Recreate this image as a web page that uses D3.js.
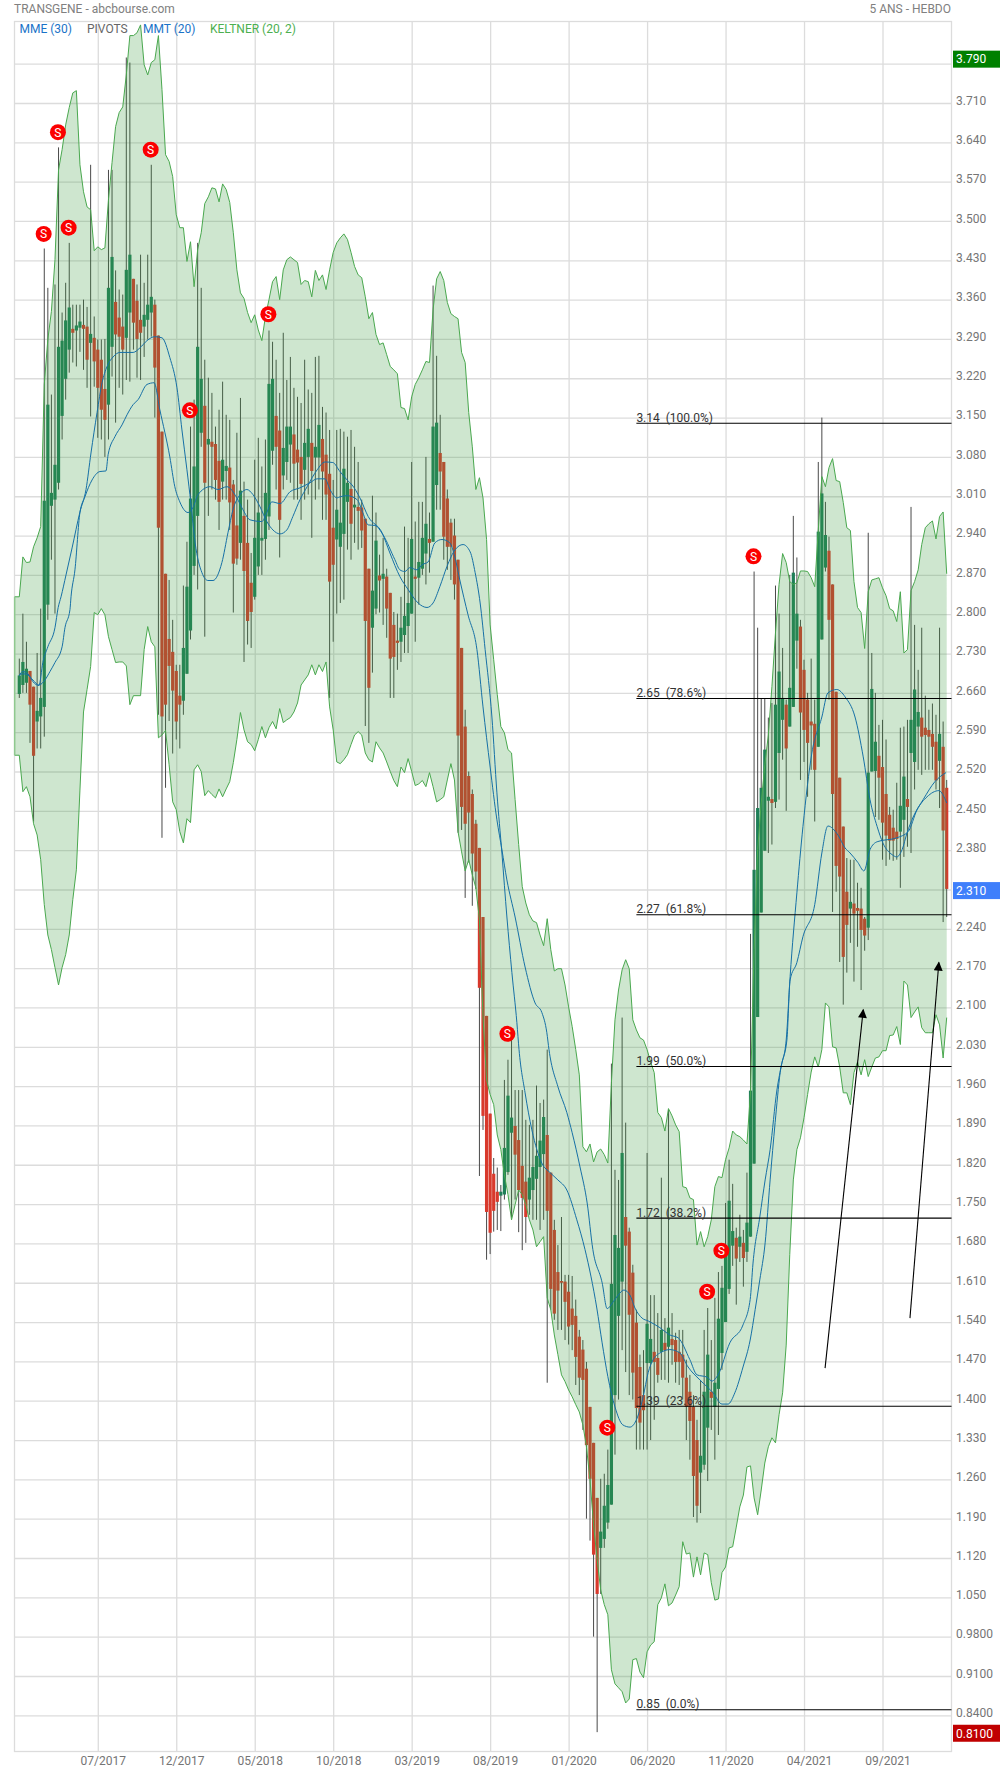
<!DOCTYPE html>
<html>
<head>
<meta charset="utf-8">
<script src="https://cdn.jsdelivr.net/npm/d3@7"></script>
<style>
  body { margin: 0; background: #fff; }
  text { font-family: Roboto, sans-serif; }
</style>
</head>
<body>
<svg id="Chart"></svg>
<script>
// weekly candles, [open, high, low, close]
const candles2017 = [
  [2.658,2.721,2.651,2.691],[2.674,2.801,2.660,2.715],[2.678,2.751,2.660,2.703],[2.699,2.699,2.571,2.639],[2.671,2.671,2.431,2.548],
  [2.609,2.731,2.561,2.628],[2.618,2.810,2.561,2.651],[2.635,3.451,2.582,3.002],[2.817,3.381,2.790,3.173],[2.993,3.191,2.897,3.016],
  [3.004,3.387,2.801,3.066],[3.034,3.631,3.022,3.276],[3.153,3.337,3.111,3.287],[3.219,3.390,3.182,3.323],[3.271,3.461,3.230,3.346],
  [3.308,3.351,3.248,3.301],[3.305,3.351,3.241,3.314],[3.310,3.351,3.267,3.321],[3.315,3.360,3.235,3.308],[3.312,3.347,3.203,3.253],
  [3.283,3.600,3.152,3.299],[3.292,3.330,3.205,3.250],[3.271,3.289,3.114,3.203],[3.253,3.289,3.111,3.164],[3.201,3.290,3.080,3.146],
  [3.173,3.591,3.111,3.381],[3.276,3.591,3.223,3.436],[3.356,3.412,3.141,3.298],[3.328,3.378,3.203,3.294],[3.312,3.369,3.191,3.271],
  [3.292,3.791,3.217,3.413],[3.337,3.782,3.214,3.440],[3.397,3.397,3.271,3.319],[3.358,3.387,3.221,3.290],[3.324,3.440,3.217,3.301],
  [3.312,3.390,3.258,3.333],[3.324,3.440,3.289,3.351],[3.337,3.600,3.294,3.365],[3.351,3.360,3.150,3.239],[3.296,3.296,2.621,2.954],
  [3.125,3.125,2.402,2.618],[2.872,2.872,2.491,2.639],[2.756,2.861,2.610,2.708],[2.733,2.790,2.552,2.664],[2.699,2.710,2.577,2.609]
];
const candles2018 = [
  [2.655,2.710,2.561,2.639],[2.646,2.851,2.621,2.740],[2.694,2.929,2.694,2.849],[2.771,3.134,2.755,3.006],[2.886,3.182,2.870,3.063],
  [2.975,3.461,2.844,3.276],[3.123,3.381,3.098,3.219],[3.171,3.253,2.760,3.034],[3.102,3.221,2.975,3.112],[3.107,3.194,3.022,3.098],
  [3.103,3.134,3.004,3.039],[3.073,3.164,2.950,3.000],[3.036,3.214,3.004,3.075],[3.055,3.155,3.004,3.064],[3.061,3.146,2.950,2.999],
  [3.031,3.039,2.803,2.890],[2.958,3.123,2.888,2.899],[2.927,3.185,2.897,3.020],[2.975,3.036,2.715,2.877],[2.927,3.004,2.746,2.788],
  [2.856,2.909,2.740,2.804],[2.831,3.075,2.826,2.936],[2.885,3.114,2.870,2.981],[2.931,3.063,2.870,2.936],[2.934,3.111,2.897,3.016],
  [2.974,3.305,2.950,3.210],[3.091,3.285,3.066,3.219],[3.153,3.253,3.022,3.098],[3.127,3.194,2.901,2.968],[3.047,3.301,3.022,3.096],
  [3.071,3.217,3.039,3.134],[3.102,3.258,3.034,3.134],[3.120,3.203,3.004,3.068],[3.093,3.187,3.004,3.070],[3.080,3.176,2.968,3.032],
  [3.057,3.253,3.004,3.105],[3.080,3.200,3.013,3.130],[3.105,3.194,2.936,3.055],[3.079,3.258,3.004,3.098],[3.079,3.260,3.022,3.137],
  [3.112,3.169,2.968,3.054],[3.084,3.159,2.968,3.013],[3.050,3.128,2.651,2.858],[2.954,3.039,2.751,2.888],[2.933,3.128,2.801,2.986],
  [2.920,3.130,2.820,2.963],[2.943,3.125,2.826,3.059],[3.000,3.116,2.915,3.034],[3.023,3.128,2.897,2.961],[2.990,3.098,2.927,2.995],
  [2.991,3.071,2.915,2.984],[2.990,3.004,2.918,2.949],[2.970,2.970,2.601,2.788]
];
const candles2019 = [
  [2.881,2.881,2.571,2.669],[2.776,3.011,2.696,2.842],[2.810,2.981,2.800,2.931],[2.869,2.906,2.803,2.860],[2.863,2.936,2.781,2.872],
  [2.867,2.881,2.758,2.810],[2.838,2.838,2.651,2.721],[2.781,2.804,2.651,2.724],[2.753,2.801,2.701,2.749],[2.751,2.831,2.715,2.776],
  [2.763,2.956,2.731,2.797],[2.779,2.936,2.731,2.820],[2.801,3.071,2.801,2.934],[2.867,2.965,2.751,2.863],[2.865,3.000,2.817,2.893],
  [2.881,3.000,2.870,2.936],[2.908,3.080,2.853,2.961],[2.934,2.981,2.874,2.927],[2.929,3.385,2.929,3.134],[3.030,3.260,2.986,3.141],
  [3.087,3.155,2.986,3.054],[3.071,3.071,2.897,2.938],[3.006,3.022,2.879,2.920],[2.963,2.970,2.861,2.920],[2.940,2.970,2.826,2.853],
  [2.897,2.897,2.411,2.584],[2.740,2.740,2.416,2.457],[2.600,2.630,2.295,2.427],[2.512,2.520,2.358,2.447],[2.480,2.488,2.281,2.374],
  [2.427,2.434,2.311,2.342],[2.384,2.384,1.800,2.135],[2.261,2.261,1.882,1.907],[2.085,2.085,1.651,1.736],[1.911,1.911,1.661,1.699],
  [1.804,1.832,1.701,1.738],[1.772,1.815,1.704,1.754],[1.765,1.784,1.702,1.772],[1.767,1.971,1.758,1.850],[1.807,2.007,1.802,1.943],
  [1.877,2.042,1.726,1.904],[1.889,1.953,1.758,1.838],[1.864,1.953,1.700,1.775],[1.818,1.953,1.668,1.761],[1.790,1.900,1.681,1.727],
  [1.758,1.891,1.731,1.797],[1.775,1.900,1.722,1.816],[1.795,1.961,1.722,1.836],[1.816,1.930,1.704,1.863],[1.839,1.936,1.722,1.905],
  [1.873,2.025,1.432,1.738],[1.806,1.806,1.562,1.599],[1.704,1.722,1.544,1.555]
];
const candles2020 = [
  [1.629,1.677,1.526,1.596],[1.613,1.727,1.526,1.610],[1.612,1.624,1.508,1.576],[1.594,1.624,1.500,1.532],[1.564,1.622,1.490,1.535],
  [1.551,1.580,1.428,1.478],[1.514,1.526,1.410,1.441],[1.491,1.508,1.348,1.437],[1.457,1.469,1.190,1.321],[1.389,1.389,1.151,1.261],
  [1.325,1.325,0.980,1.126],[1.227,1.227,0.810,1.056],[1.138,1.261,1.056,1.167],[1.154,1.270,1.138,1.213],[1.183,1.313,1.172,1.250],
  [1.215,2.000,1.215,1.608],[1.410,1.811,1.304,1.695],[1.551,1.793,1.402,1.672],[1.612,2.082,1.490,1.841],[1.727,1.895,1.451,1.676],
  [1.701,1.708,1.410,1.553],[1.628,1.642,1.402,1.450],[1.539,1.562,1.313,1.387],[1.460,1.482,1.313,1.361],[1.410,1.490,1.313,1.383],
  [1.467,1.841,1.313,1.537],[1.467,1.588,1.330,1.510],[1.487,1.588,1.366,1.469],[1.476,1.556,1.432,1.446],[1.487,1.797,1.437,1.526],
  [1.503,1.547,1.437,1.490],[1.496,1.918,1.432,1.530],[1.510,1.556,1.464,1.499],[1.508,1.521,1.432,1.469],[1.487,1.526,1.428,1.469],
  [1.482,1.526,1.402,1.441],[1.441,1.473,1.330,1.389],[1.416,1.446,1.295,1.364],[1.389,1.410,1.193,1.266],[1.330,1.366,1.183,1.213],
  [1.272,1.437,1.200,1.302],[1.286,1.526,1.277,1.416],[1.352,1.565,1.257,1.482],[1.416,1.508,1.348,1.405],[1.389,1.583,1.295,1.432],
  [1.421,1.629,1.339,1.546],[1.485,1.640,1.455,1.601],[1.540,1.752,1.540,1.660],[1.599,1.829,1.590,1.756],[1.676,1.786,1.640,1.702],
  [1.690,1.708,1.571,1.653],[1.674,1.731,1.647,1.692],[1.681,1.704,1.603,1.654]
];
const candles2021 = [
  [1.665,1.806,1.647,1.717],[1.692,2.231,1.692,1.952],[1.822,2.876,1.822,2.345],[2.083,2.776,2.083,2.455],[2.269,2.650,2.269,2.491],
  [2.379,2.650,2.379,2.559],[2.468,2.616,2.375,2.475],[2.471,2.642,2.390,2.464],[2.466,2.851,2.455,2.639],[2.553,2.801,2.470,2.698],
  [2.612,2.740,2.541,2.651],[2.639,2.648,2.450,2.561],[2.600,2.870,2.600,2.669],[2.635,2.975,2.635,2.874],[2.753,2.901,2.703,2.801],
  [2.778,2.790,2.505,2.625],[2.701,2.719,2.537,2.594],[2.648,2.660,2.475,2.571],[2.609,2.721,2.523,2.602],[2.605,2.648,2.431,2.523],
  [2.564,3.071,2.564,2.947],[2.755,3.150,2.755,3.015],[2.883,3.000,2.876,2.941],[2.913,2.938,2.648,2.790],[2.853,2.853,2.270,2.480],
  [2.662,2.662,2.306,2.352],[2.509,2.509,2.181,2.333],[2.422,2.422,2.105,2.190],[2.306,2.366,2.162,2.247],[2.276,2.363,2.215,2.288],
  [2.285,2.363,2.146,2.267],[2.277,2.322,2.208,2.272],[2.276,2.313,2.131,2.238],[2.258,2.261,2.201,2.228],[2.242,2.945,2.220,2.518],
  [2.520,2.731,2.520,2.667],[2.521,2.660,2.439,2.573],[2.548,2.603,2.434,2.509],[2.528,2.612,2.363,2.429],[2.480,2.577,2.352,2.406],
  [2.443,2.457,2.363,2.397],[2.420,2.452,2.361,2.397],[2.413,2.500,2.363,2.400],[2.413,2.598,2.313,2.459],[2.434,2.600,2.368,2.511],
  [2.471,2.612,2.386,2.457],[2.553,2.991,2.375,2.612],[2.537,2.781,2.488,2.666],[2.600,2.701,2.523,2.626],[2.616,2.776,2.514,2.582],
  [2.598,2.655,2.523,2.585],[2.594,2.630,2.523,2.582],[2.587,2.641,2.523,2.564],[2.573,2.621,2.488,2.504],[2.539,2.776,2.455,2.587],
  [2.564,2.609,2.252,2.415],[2.491,2.505,2.261,2.311]
];

const keltnerUpper = [
  2.831,2.902,2.892,2.893,2.920,2.936,2.956,3.209,3.289,3.339,
  3.431,3.591,3.627,3.671,3.702,3.728,3.732,3.600,3.552,3.525,
  3.520,3.447,3.454,3.449,3.452,3.538,3.604,3.668,3.693,3.703,
  3.760,3.830,3.830,3.835,3.849,3.778,3.760,3.782,3.787,3.830,
  3.734,3.618,3.606,3.579,3.511,3.488,3.488,3.428,3.463,3.383,
  3.449,3.479,3.531,3.543,3.559,3.557,3.534,3.566,3.556,3.533,
  3.479,3.413,3.372,3.362,3.337,3.319,3.333,3.306,3.287,3.330,
  3.360,3.392,3.401,3.360,3.413,3.431,3.436,3.431,3.426,3.387,
  3.394,3.392,3.365,3.412,3.394,3.404,3.378,3.413,3.444,3.461,
  3.470,3.477,3.467,3.444,3.419,3.404,3.399,3.365,3.326,3.337,
  3.298,3.280,3.283,3.262,3.241,3.235,3.228,3.168,3.166,3.146,
  3.187,3.209,3.221,3.235,3.250,3.248,3.342,3.397,3.410,3.394,
  3.355,3.335,3.330,3.326,3.266,3.248,3.159,3.098,3.022,3.043,
  3.007,2.933,2.781,2.719,2.657,2.600,2.589,2.559,2.553,2.470,
  2.390,2.315,2.286,2.265,2.254,2.251,2.229,2.210,2.258,2.203,
  2.165,2.169,2.169,2.140,2.101,2.066,2.025,1.980,1.852,1.843,
  1.857,1.825,1.843,1.848,1.838,1.823,1.966,2.078,2.131,2.167,
  2.185,2.169,2.078,2.060,2.046,2.042,2.025,2.003,1.984,1.913,
  1.904,1.880,1.920,1.907,1.891,1.879,1.781,1.779,1.761,1.758,
  1.677,1.701,1.674,1.692,1.722,1.781,1.799,1.797,1.829,1.850,
  1.880,1.873,1.870,1.864,1.857,1.950,2.203,2.381,2.464,2.532,
  2.585,2.671,2.767,2.853,2.908,2.892,2.858,2.853,2.856,2.877,
  2.877,2.876,2.865,2.849,2.950,3.045,3.027,3.061,3.077,3.038,
  3.036,2.999,2.954,2.949,2.858,2.812,2.803,2.739,2.840,2.861,
  2.863,2.865,2.847,2.833,2.810,2.806,2.787,2.840,2.731,2.737,
  2.842,2.858,2.879,2.924,2.954,2.961,2.966,2.934,2.974,2.982,
  2.872
];

const keltnerLower = [
  2.549,2.484,2.493,2.475,2.427,2.407,2.363,2.283,2.229,2.203,
  2.171,2.140,2.171,2.194,2.229,2.292,2.345,2.487,2.626,2.666,
  2.707,2.803,2.799,2.810,2.799,2.760,2.737,2.714,2.715,2.715,
  2.708,2.639,2.655,2.655,2.655,2.737,2.778,2.751,2.742,2.580,
  2.585,2.593,2.532,2.466,2.452,2.413,2.393,2.436,2.429,2.523,
  2.532,2.520,2.477,2.486,2.479,2.473,2.489,2.475,2.489,2.502,
  2.536,2.577,2.625,2.594,2.573,2.568,2.557,2.577,2.600,2.580,
  2.598,2.609,2.596,2.632,2.607,2.612,2.616,2.626,2.642,2.674,
  2.683,2.692,2.710,2.692,2.710,2.698,2.715,2.635,2.594,2.537,
  2.534,2.541,2.550,2.568,2.585,2.591,2.585,2.553,2.541,2.537,
  2.573,2.562,2.553,2.537,2.520,2.504,2.493,2.528,2.518,2.543,
  2.520,2.495,2.498,2.504,2.493,2.518,2.493,2.466,2.470,2.475,
  2.505,2.534,2.505,2.413,2.377,2.343,2.363,2.336,2.313,2.256,
  2.083,1.971,1.945,1.927,1.873,1.847,1.802,1.767,1.722,1.749,
  1.775,1.767,1.749,1.722,1.704,1.674,1.683,1.692,1.583,1.562,
  1.517,1.482,1.446,1.434,1.419,1.407,1.393,1.380,1.357,1.318,
  1.259,1.179,1.117,1.063,1.037,1.019,0.921,0.896,0.889,0.882,
  0.862,0.869,0.939,0.941,0.917,0.907,0.953,0.965,0.971,1.037,
  1.049,1.074,1.035,1.040,1.054,1.069,1.149,1.127,1.129,1.086,
  1.122,1.090,1.129,1.126,1.076,1.045,1.047,1.094,1.104,1.138,
  1.140,1.175,1.211,1.232,1.282,1.284,1.227,1.197,1.241,1.289,
  1.318,1.334,1.325,1.375,1.414,1.499,1.660,1.793,1.847,1.868,
  1.904,1.945,1.985,2.012,1.994,2.025,2.108,2.101,2.030,2.028,
  1.994,1.948,1.948,1.927,1.984,2.003,1.980,2.007,1.977,1.994,
  2.010,2.012,2.023,2.023,2.050,2.051,2.066,2.034,2.147,2.140,
  2.082,2.092,2.101,2.064,2.055,2.055,2.055,2.087,2.069,2.010,
  2.082
];

// moving averages, [week, price]
const mmeLine = [
  [0,2.691],[1,2.698],[2.4,2.694],[3.8,2.680],[5.5,2.673],[6.6,2.714],[8,2.742],[10,2.776],[10.9,2.812],[11.7,2.831],
  [13.1,2.870],[14.8,2.918],[17,2.982],[18.7,3.022],[20.1,3.087],[21.8,3.159],[23.2,3.212],[24.6,3.241],[26.3,3.258],[28.2,3.266],
  [31.9,3.266],[33.8,3.274],[35.8,3.287],[38,3.294],[40,3.292],[42.2,3.257],[44.2,3.203],[45.6,3.128],[47,3.057],[48.1,2.998],
  [49.3,2.927],[51.2,2.874],[52.9,2.860],[54.3,2.860],[56.8,2.892],[58.5,2.945],[59.9,2.986],[61.9,3.013],[63.8,3.022],[65.5,3.013],
  [67.5,2.991],[69.4,2.965],[71.1,2.950],[73.1,2.943],[75,2.950],[76.7,2.974],[78.7,3.004],[80.7,3.027],[83.5,3.057],[85.7,3.071],
  [87.9,3.070],[89.9,3.054],[91.9,3.039],[93.3,3.030],[95.5,3.007],[97.8,2.974],[101.7,2.945],[103.9,2.909],[106.7,2.867],[109,2.844],
  [111.8,2.820],[114.3,2.812],[116,2.820],[117.9,2.849],[119.9,2.885],[122.2,2.915],[124.4,2.924],[126.4,2.911],[127.8,2.874],[129.2,2.820],
  [130.6,2.737],[132.5,2.617],[133.9,2.482],[135.3,2.375],[136.7,2.261],[138.1,2.162],[139.5,2.073],[140.1,2.025],[141.8,1.948],[143.7,1.882],
  [146.5,1.823],[148.8,1.806],[151,1.793],[153.5,1.775],[156.3,1.722],[158.6,1.669],[161.9,1.565],[163.4,1.503],[165,1.443],[167,1.389],
  [169.2,1.357],[171.2,1.353],[173.2,1.369],[174.9,1.407],[176.3,1.450],[177.7,1.473],[180.2,1.487],[182.4,1.491],[185.2,1.485],[187.5,1.460],
  [190.8,1.437],[194.5,1.414],[197,1.394],[198.7,1.394],[200.6,1.414],[202.9,1.460],[204.9,1.508],[206.3,1.562],[207.6,1.615],[209.1,1.681],
  [210.5,1.793],[211.9,1.895],[213.3,1.984],[215,2.042],[216.1,2.155],[218,2.304],[219.7,2.422],[222.2,2.553],[225,2.617],[226.7,2.660],
  [229.2,2.666],[231.5,2.653],[234.3,2.617],[236.6,2.546],[238.5,2.470],[240.5,2.422],[242.1,2.393],[244.7,2.372],[246,2.368],[247.5,2.381],
  [248.9,2.411],[250.6,2.439],[253.4,2.470],[256.7,2.502],[259.8,2.518]
];
const mmtLine = [
  [0,2.691],[1,2.694],[2.4,2.692],[3.8,2.683],[5.5,2.674],[7.2,2.683],[8.6,2.698],[10,2.714],[12,2.742],[12.8,2.776],
  [14.2,2.808],[14.5,2.831],[15.6,2.879],[17,2.981],[18.4,3.009],[20.4,3.039],[22.6,3.054],[24.3,3.055],[24.9,3.084],[26.8,3.116],
  [28.8,3.137],[30.2,3.155],[31.9,3.173],[33.3,3.182],[35.8,3.209],[37.8,3.212],[39.4,3.164],[42.2,3.080],[43.6,3.027],[45,3.000],
  [47.3,2.981],[48.7,2.990],[50.1,3.013],[53.5,3.027],[55.7,3.022],[58.2,3.027],[61,3.007],[62.7,2.986],[64.7,2.968],[68,2.965],
  [69.4,2.981],[70.8,3.000],[73.1,2.997],[75.9,3.018],[78.7,3.025],[81.5,3.034],[83.5,3.041],[85.7,3.041],[87.1,3.022],[89.1,3.007],
  [89.9,3.009],[91.9,3.011],[94.7,3.004],[96.3,2.981],[97.8,2.959],[99.7,2.958],[102,2.941],[105.3,2.897],[106.7,2.879],[108.1,2.876],
  [109.5,2.883],[111.5,2.879],[112.9,2.888],[114.6,2.893],[116.5,2.927],[118.5,2.933],[120.7,2.927],[122.1,2.902],[123.5,2.861],[125.8,2.799],
  [128.3,2.737],[130,2.635],[132,2.528],[133.9,2.434],[135.3,2.381],[136.7,2.327],[139,2.261],[141.8,2.172],[144.6,2.108],[146.5,2.091],
  [147.9,2.055],[148.5,2.025],[151,1.959],[153.5,1.913],[155,1.877],[157.2,1.816],[159.2,1.752],[160.8,1.669],[163.4,1.610],[164.8,1.564],
  [166.5,1.576],[167.9,1.588],[169.5,1.597],[171.2,1.588],[172.6,1.565],[174.6,1.547],[176.3,1.542],[179.6,1.530],[182.4,1.517],[184.7,1.512],
  [188,1.473],[190,1.446],[192.8,1.442],[194.2,1.435],[195.9,1.446],[199.2,1.503],[202.9,1.535],[204.9,1.580],[205.7,1.645],[207.6,1.727],
  [209.1,1.793],[210.5,1.847],[212.4,1.953],[213.8,2.001],[215.2,2.042],[216.1,2.149],[218,2.180],[219.7,2.226],[223,2.283],[225,2.375],
  [226.7,2.423],[229.5,2.407],[231.5,2.384],[232.9,2.375],[235.1,2.358],[236.8,2.343],[238.5,2.381],[240.5,2.395],[246,2.402],[249.2,2.413],
  [251.7,2.452],[254.5,2.475],[257.8,2.486],[260,2.464]
];

const priceTicks = [0.84,0.91,0.98,1.05,1.12,1.19,1.26,1.33,1.40,1.47,1.54,1.61,1.68,1.75,1.82,1.89,1.96,2.03,2.10,2.17,2.24,2.31,
  2.38,2.45,2.52,2.59,2.66,2.73,2.80,2.87,2.94,3.01,3.08,3.15,3.22,3.29,3.36,3.43,3.50,3.57,3.64,3.71,3.78];
// these two sit under the price boxes
const hiddenTickLabels = [2.31, 3.78];
const dateTicks = [22,44,66,88,110,132,154,176,198,220,242];
const dateLabels = ["07/2017","12/2017","05/2018","10/2018","03/2019","08/2019","01/2020","06/2020","11/2020","04/2021","09/2021"];

const fibPrices = [3.14,2.65,2.265,1.995,1.725,1.39,0.85];
const fibLabels = ["3.14  (100.0%)","2.65  (78.6%)","2.27  (61.8%)","1.99  (50.0%)","1.72  (38.2%)","1.39  (23.6%)","0.85  (0.0%)"];
const fibStartWeek = 173;

const sellWeeks = [7,11,14,37,48,70,137,165,193,197,206];
const sellPrices = [3.477,3.658,3.488,3.627,3.163,3.334,2.053,1.352,1.594,1.667,2.903];

// [week, price] start and tip
const arrows = [
  [[225.9,1.458],[236.6,2.096]],
  [[249.7,1.547],[257.8,2.180]]
];

const priceBoxes = [
  { value: 3.79, label: "3.790", color: "#008000" },
  { value: 2.31, label: "2.310", color: "#3f7ffb" },
  { value: 0.81, label: "0.8100", color: "#c00000" }
];

const legendItems = [
  { label: "MME (30)", x: 19.5, color: "#1a73c8" },
  { label: "PIVOTS", x: 87, color: "#666666" },
  { label: "MMT (20)", x: 143, color: "#1a73c8" },
  { label: "KELTNER (20, 2)", x: 210, color: "#4caf50" }
];

const candles = [].concat(candles2017, candles2018, candles2019, candles2020, candles2021);

function getConfig() {
  let width = 1000;
  let height = 1774;
  let plot = { left: 14.5, right: 951.5, top: 21.5, bottom: 1751.5 };
  let container = d3.select("#Chart")
    .attr("width", width)
    .attr("height", height)
    .style("display", "block");
  return { width, height, plot, container };
}

function getScales() {
  let xScale = d3.scaleLinear().domain([0, 260]).range([19.3, 946.7]);
  let yScale = d3.scaleLinear().domain([0.84, 3.71]).range([1715.3, 103]);
  return { xScale, yScale };
}

function drawGrid(scales, config) {
  let { xScale, yScale } = scales;
  let { plot, container } = config;

  let gridY = container.append("g")
    .attr("transform", `translate(${plot.left},0)`)
    .call(d3.axisLeft(yScale).tickValues(priceTicks).tickSize(plot.left - plot.right).tickFormat(""));
  let gridX = container.append("g")
    .attr("transform", `translate(0,${plot.bottom})`)
    .call(d3.axisBottom(xScale).tickValues(dateTicks).tickSize(plot.top - plot.bottom).tickFormat(""));

  [gridY, gridX].forEach(g => {
    g.select(".domain").remove();
    g.selectAll("line").attr("stroke", "#dcdcdc").attr("stroke-width", 1.3);
  });

  container.append("rect")
    .attr("x", plot.left)
    .attr("y", plot.top)
    .attr("width", plot.right - plot.left)
    .attr("height", plot.bottom - plot.top)
    .attr("fill", "none")
    .attr("stroke", "#dcdcdc")
    .attr("stroke-width", 1.3);
}

function drawCandles(scales, config) {
  let { xScale, yScale } = scales;
  let g = config.container.append("g");

  g.selectAll(".wick").data(candles).enter()
    .append("line")
    .attr("x1", (d, i) => xScale(i))
    .attr("x2", (d, i) => xScale(i))
    .attr("y1", d => yScale(d[1]))
    .attr("y2", d => yScale(d[2]))
    .attr("stroke", "#4a4a4a")
    .attr("stroke-width", 1);

  g.selectAll(".body").data(candles).enter()
    .append("rect")
    .attr("x", (d, i) => xScale(i) - 1.6)
    .attr("width", 3.2)
    .attr("y", d => yScale(Math.max(d[0], d[3])))
    .attr("height", d => Math.max(1.2, Math.abs(yScale(d[0]) - yScale(d[3]))))
    .attr("fill", d => d[3] >= d[0] ? "#1f7f58" : "#d8392c");
}

function drawAverages(scales, config) {
  let { xScale, yScale } = scales;
  let line = d3.line()
    .x(d => xScale(d[0]))
    .y(d => yScale(d[1]))
    .curve(d3.curveMonotoneX);

  [mmeLine, mmtLine].forEach(points => {
    config.container.append("path")
      .attr("d", line(points))
      .attr("fill", "none")
      .attr("stroke", "#0a62c8")
      .attr("stroke-width", 1);
  });
}

function drawKeltner(scales, config) {
  let { xScale, yScale } = scales;
  let { container } = config;
  let startWeek = -1.3;
  let weeks = [startWeek].concat(d3.range(keltnerUpper.length));
  let upper = [keltnerUpper[0]].concat(keltnerUpper);
  let lower = [keltnerLower[0]].concat(keltnerLower);

  let area = d3.area()
    .x(i => xScale(weeks[i]))
    .y0(i => yScale(lower[i]))
    .y1(i => yScale(upper[i]));

  container.append("path")
    .attr("d", area(d3.range(weeks.length)))
    .attr("fill", "#3c9b41")
    .attr("fill-opacity", 0.25);

  [upper, lower].forEach(values => {
    let line = d3.line().x(i => xScale(weeks[i])).y(i => yScale(values[i]));
    container.append("path")
      .attr("d", line(d3.range(weeks.length)))
      .attr("fill", "none")
      .attr("stroke", "#4aa84f")
      .attr("stroke-width", 1);
  });

  container.append("line")
    .attr("x1", xScale(startWeek))
    .attr("x2", xScale(startWeek))
    .attr("y1", yScale(upper[0]))
    .attr("y2", yScale(lower[0]))
    .attr("stroke", "#8fc98f")
    .attr("stroke-width", 1.5);
}

function drawFibs(scales, config) {
  let { xScale, yScale } = scales;
  let { plot, container } = config;

  let g = container.append("g");
  g.selectAll("line").data(fibPrices).enter()
    .append("line")
    .attr("x1", xScale(fibStartWeek))
    .attr("x2", plot.right)
    .attr("y1", d => yScale(d))
    .attr("y2", d => yScale(d))
    .attr("stroke", "#000")
    .attr("stroke-width", 1.1);

  g.selectAll("text").data(fibPrices).enter()
    .append("text")
    .attr("x", xScale(fibStartWeek))
    .attr("y", d => yScale(d) - 1.5)
    .attr("font-size", 12)
    .attr("fill", "#333")
    .style("white-space", "pre")
    .text((d, i) => fibLabels[i]);
}

function drawSellMarks(scales, config) {
  let { xScale, yScale } = scales;
  let g = config.container.append("g");

  let marks = g.selectAll("g").data(sellWeeks).enter()
    .append("g")
    .attr("transform", (d, i) => `translate(${xScale(d) - 0.6},${yScale(sellPrices[i])})`);
  marks.append("circle").attr("r", 8).attr("fill", "#fb0000");
  marks.append("text")
    .attr("text-anchor", "middle")
    .attr("y", 4.3)
    .attr("font-size", 12)
    .attr("fill", "#fff")
    .text("S");
}

function drawArrows(scales, config) {
  let { xScale, yScale } = scales;
  let { container } = config;

  container.append("defs").append("marker")
    .attr("id", "head")
    .attr("viewBox", "0 0 10 10")
    .attr("refX", 9)
    .attr("refY", 5)
    .attr("markerWidth", 10)
    .attr("markerHeight", 9)
    .attr("markerUnits", "userSpaceOnUse")
    .attr("orient", "auto")
    .append("path")
    .attr("d", "M0,0L10,5L0,10Z")
    .attr("fill", "#000");

  container.selectAll(".arrow").data(arrows).enter()
    .append("line")
    .attr("x1", d => xScale(d[0][0]))
    .attr("y1", d => yScale(d[0][1]))
    .attr("x2", d => xScale(d[1][0]))
    .attr("y2", d => yScale(d[1][1]))
    .attr("stroke", "#000")
    .attr("stroke-width", 1.1)
    .attr("marker-end", "url(#head)");
}

function drawAxes(scales, config) {
  let { xScale, yScale } = scales;
  let { plot, container } = config;

  let axisY = d3.axisRight(yScale)
    .tickValues(priceTicks)
    .tickSize(0)
    .tickPadding(4.5)
    .tickFormat(d => {
      if (hiddenTickLabels.includes(d)) return "";
      return d < 1 ? d.toFixed(4) : d.toFixed(3);
    });
  let gY = container.append("g")
    .attr("transform", `translate(${plot.right},-2.5)`)
    .call(axisY);

  let axisX = d3.axisBottom(xScale)
    .tickValues(dateTicks)
    .tickSize(0)
    .tickPadding(5)
    .tickFormat((d, i) => dateLabels[i]);
  let gX = container.append("g")
    .attr("transform", `translate(5,${plot.bottom})`)
    .call(axisX);

  [gY, gX].forEach(g => {
    g.select(".domain").remove();
    g.selectAll("text")
      .attr("font-family", "Roboto, sans-serif")
      .attr("font-size", 12)
      .attr("fill", "#757575");
  });

  let boxes = container.selectAll(".box").data(priceBoxes).enter().append("g");
  boxes.append("rect")
    .attr("x", 953)
    .attr("y", d => yScale(d.value) - 7.4)
    .attr("width", 47)
    .attr("height", 17)
    .attr("fill", d => d.color);
  boxes.append("text")
    .attr("x", 956)
    .attr("y", d => yScale(d.value) + 5.4)
    .attr("font-size", 12)
    .attr("fill", "#fff")
    .text(d => d.label);
}

function drawTitles(config) {
  let { container } = config;

  container.append("text")
    .attr("x", 14)
    .attr("y", 13)
    .attr("font-size", 12)
    .attr("fill", "#808080")
    .text("TRANSGENE - abcbourse.com");

  container.append("text")
    .attr("x", 951)
    .attr("y", 13)
    .attr("text-anchor", "end")
    .attr("font-size", 12)
    .attr("fill", "#808080")
    .text("5 ANS - HEBDO");

  container.selectAll(".legend").data(legendItems).enter()
    .append("text")
    .attr("x", d => d.x)
    .attr("y", 33)
    .attr("font-size", 12)
    .attr("fill", d => d.color)
    .text(d => d.label);
}

function showChart() {
  let config = getConfig();
  let scales = getScales();
  drawGrid(scales, config);
  drawCandles(scales, config);
  drawAverages(scales, config);
  drawKeltner(scales, config);
  drawFibs(scales, config);
  drawArrows(scales, config);
  drawSellMarks(scales, config);
  drawAxes(scales, config);
  drawTitles(config);
}

showChart();
</script>
</body>
</html>
